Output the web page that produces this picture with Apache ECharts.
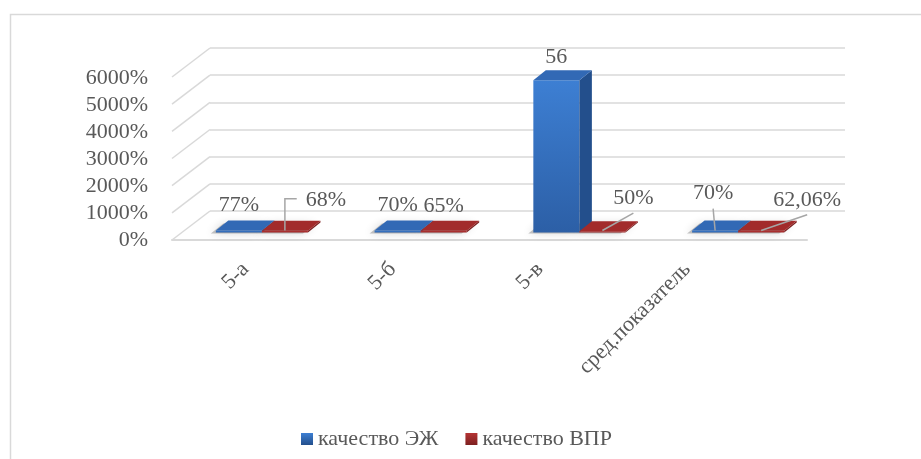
<!DOCTYPE html>
<html><head><meta charset="utf-8">
<script src="https://cdn.jsdelivr.net/npm/echarts@6/dist/echarts.min.js"></script>
<style>html,body{margin:0;padding:0;background:#fff}#c{width:921px;height:459px}</style>
</head><body><div id="c"></div>
<script>
// ---- data ----
const categories = ['5-а', '5-б', '5-в', 'сред.показатель'];
const seriesNames = ['качество ЭЖ', 'качество ВПР'];
const qualityEJ = [77, 70, 5600, 70];
const qualityVPR = [68, 65, 50, 62.06];
const labelsEJ = ['77%', '70%', '56', '70%'];
const labelsVPR = ['68%', '65%', '50%', '62,06%'];
const yTicks = [0, 1000, 2000, 3000, 4000, 5000, 6000];

// ---- layout (label placement as in the original) ----
const labelShiftEJ = [[0, 0], [0, 0], [0, 2], [-2, -12]];
const labelShiftVPR = [[41, -5], [0, 0], [31, -8], [46, -6]];
const leaderEJ = [null, null, null, 'line'];
const leaderVPR = ['elbow', null, 'line', 'line'];

const FONT = 'Liberation Serif';
const TXT = '#595959';
const GRID = '#d9d9d9';
const FS = 22;
const DEPTH_X = 38, DEPTH_Y = 29;   // wall depth
const BDX = 12.5, BDY = -10;        // bar depth

const palette = [
  { frontTop: '#3d7fd3', frontBot: '#2c5fa6', side: '#234f8c', top: '#3269b5', solid: '#2f65b0' },
  { frontTop: '#b53434', frontBot: '#9a2929', side: '#7d2020', top: '#a22b2b', solid: '#a52a2a' }
];

const measureCtx = document.createElement('canvas').getContext('2d');
measureCtx.font = FS + 'px "' + FONT + '"';

function makeBarRender(s, labels, shifts, leaders) {
  const c = palette[s];
  return function (params, api) {
    const i = params.dataIndex;
    const ci = api.value(0), v = api.value(1);
    const base = api.coord([ci, 0]);
    const topP = api.coord([ci, v]);
    const band = api.size([1, 0])[0];
    const w = band * 0.29;
    const x0 = base[0] - w + s * w, x1 = x0 + w;
    const yb = base[1], yt = topP[1];
    const ch = [];
    ch.push({ type: 'polygon', z2: -10, silent: true,
      shape: { points: [[x0 - 5, yb + 1], [x1 - 5, yb + 1], [x1 + BDX - 5, yb + BDY + 1], [x0 + BDX - 5, yb + BDY + 1]] },
      style: { fill: 'rgba(90,90,90,0.35)', shadowBlur: 9, shadowColor: 'rgba(0,0,0,0.45)' } });
    ch.push({ type: 'rect', shape: { x: x0, y: yt, width: w, height: yb - yt },
      style: { fill: new echarts.graphic.LinearGradient(0, 0, 0, 1, [{ offset: 0, color: c.frontTop }, { offset: 1, color: c.frontBot }]) } });
    ch.push({ type: 'polygon', shape: { points: [[x1, yt], [x1 + BDX, yt + BDY], [x1 + BDX, yb + BDY], [x1, yb]] },
      style: { fill: c.side } });
    ch.push({ type: 'polygon', shape: { points: [[x0, yt], [x1, yt], [x1 + BDX, yt + BDY], [x0 + BDX, yt + BDY]] },
      style: { fill: c.top } });
    const sh = shifts[i];
    const cx = (x0 + x1) / 2;
    const lx = cx + sh[0], ly = yt + BDY - 15 + sh[1];
    const lead = leaders[i];
    if (lead === 'line') {
      ch.push({ type: 'line', z2: 5, shape: { x1: cx, y1: yb - 2, x2: lx, y2: ly + 15 },
        style: { stroke: '#a6a6a6', lineWidth: 1.5 } });
    } else if (lead === 'elbow') {
      const tw = measureCtx.measureText(labels[i]).width;
      const ex = lx - tw / 2 - 9;
      ch.push({ type: 'polyline', z2: 5, shape: { points: [[cx, yb - 2], [cx, ly - 2], [ex, ly - 2]] },
        style: { stroke: '#a6a6a6', lineWidth: 1.5, fill: null } });
    }
    ch.push({ type: 'text', z2: 6, style: { text: labels[i], x: lx, y: ly, align: 'center', verticalAlign: 'middle',
      fill: TXT, fontFamily: FONT, fontSize: FS } });
    return { type: 'group', children: ch };
  };
}

const chart = echarts.init(document.getElementById('c'), null, { renderer: 'canvas' });
const yMin = yTicks[0], yMax = yTicks[yTicks.length - 1], yStep = yTicks[1] - yTicks[0];

chart.setOption({
  backgroundColor: '#fff',
  animation: false,
  textStyle: { fontFamily: FONT },
  graphic: [{ type: 'rect', left: 8, top: 12, shape: { width: 1000, height: 600 }, style: { fill: null, stroke: GRID, lineWidth: 1.5 }, silent: true, z: -1 }],
  legend: {
    left: 296, top: 423, itemWidth: 12, itemHeight: 12, itemGap: 27,
    textStyle: { fontFamily: FONT, fontSize: FS, color: TXT },
    data: seriesNames.map((n, k) => ({ name: n, icon: 'rect',
      itemStyle: { color: new echarts.graphic.LinearGradient(0, 0, 0, 1, [{ offset: 0, color: palette[k].frontTop }, { offset: 1, color: palette[k].side }]) } }))
  },
  grid: [
    { left: 172, width: 635, top: 78, height: 162 },     // front plane (y labels, floor edge)
    { left: 210, width: 635, top: 48, height: 163 },     // back wall
    { left: 182.5, width: 635, top: 69.5, height: 163 }, // bar plane
    { left: 172, width: 589, top: 78, height: 162 }      // category labels
  ],
  xAxis: [
    { gridIndex: 0, type: 'category', data: categories, axisLine: { lineStyle: { color: GRID, width: 2 } }, axisTick: { show: false }, axisLabel: { show: false } },
    { gridIndex: 1, type: 'value', min: 0, max: 1, show: false },
    { gridIndex: 2, type: 'category', data: categories, show: false },
    { gridIndex: 3, type: 'category', data: categories, axisLine: { show: false }, axisTick: { show: false },
      axisLabel: { interval: 0, rotate: 45, margin: 26, fontFamily: FONT, fontSize: FS, color: TXT } }
  ],
  yAxis: [
    { gridIndex: 0, type: 'value', min: yMin, max: yMax, interval: yStep, splitLine: { show: false }, axisLine: { show: false }, axisTick: { show: false },
      axisLabel: { margin: 24, fontFamily: FONT, fontSize: FS, color: TXT, formatter: v => v + '%' } },
    { gridIndex: 1, type: 'value', min: yMin, max: yMax, interval: yStep, axisLine: { show: false }, axisTick: { show: false }, axisLabel: { show: false },
      splitLine: { lineStyle: { color: GRID, width: 1.5 } } },
    { gridIndex: 2, type: 'value', min: yMin, max: yMax, interval: yStep, show: false },
    { gridIndex: 3, type: 'value', min: yMin, max: yMax, show: false }
  ],
  series: [
    { type: 'custom', name: 'walls', xAxisIndex: 1, yAxisIndex: 1, silent: true, z: 1,
      data: yTicks.map(t => [0, t]),
      renderItem: function (params, api) {
        const p = api.coord([0, api.value(1)]);
        return { type: 'line', shape: { x1: p[0], y1: p[1], x2: p[0] - DEPTH_X, y2: p[1] + DEPTH_Y }, style: { stroke: GRID, lineWidth: 1.5 } };
      } },
    { type: 'custom', name: seriesNames[0], xAxisIndex: 2, yAxisIndex: 2, z: 3,
      itemStyle: { color: palette[0].solid },
      data: qualityEJ.map((v, i) => [i, v]),
      renderItem: makeBarRender(0, labelsEJ, labelShiftEJ, leaderEJ) },
    { type: 'custom', name: seriesNames[1], xAxisIndex: 2, yAxisIndex: 2, z: 3,
      itemStyle: { color: palette[1].solid },
      data: qualityVPR.map((v, i) => [i, v]),
      renderItem: makeBarRender(1, labelsVPR, labelShiftVPR, leaderVPR) }
  ]
});
</script></body></html>
